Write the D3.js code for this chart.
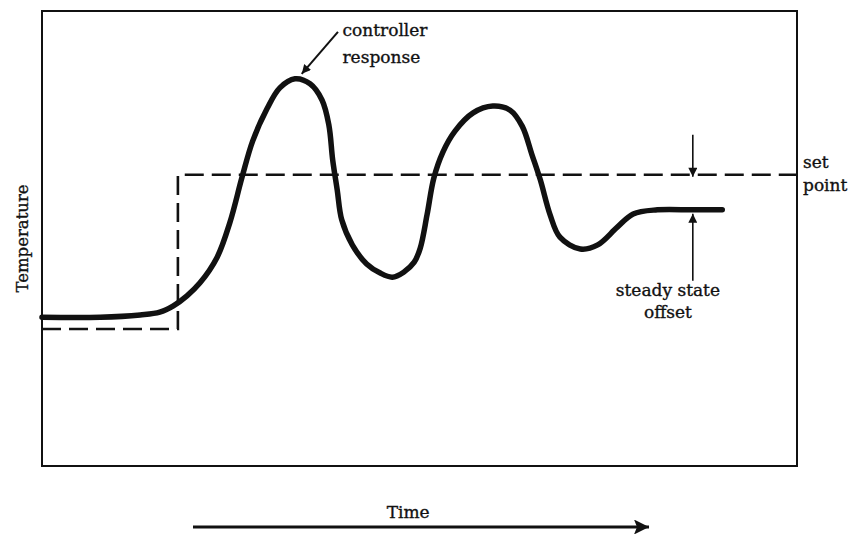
<!DOCTYPE html>
<html>
<head>
<meta charset="utf-8">
<script src="https://cdn.jsdelivr.net/npm/d3@7"></script>
<style>
  body { margin: 0; background: #fff; }
  text { font-family: "DejaVu Serif", serif; fill: #111; stroke: #111; stroke-width: 0.35px; }
</style>
</head>
<body>
<div id="chart"></div>
<script>
// controller response (time, temperature)
var respTime = [0, 7.7, 13.0, 15.6, 17.4, 19.2, 20.9, 23.2, 24.9, 26.5, 27.9, 29.8, 31.5, 33.5, 35.5, 37.1, 38.0, 38.5, 39.1, 39.7,
    41.1, 43.0, 44.8, 46.4, 47.9, 49.3, 50.1, 51.0, 51.9, 53.1, 54.7, 57.1, 59.7, 62.0, 63.6, 64.9, 66.0, 67.3, 68.6, 71.3,
    73.6, 76.2, 78.3, 81.5, 86.2, 90.1];
var respTemp = [32.7, 32.7, 33.2, 33.8, 35.2, 37.4, 40.2, 45.9, 53.6, 63.5, 71.4, 78.5, 83.1, 85.1, 84.0, 80.4, 74.9, 67.3, 60.7, 54.1,
    48.6, 44.4, 42.4, 41.5, 42.6, 44.8, 47.9, 55.2, 63.3, 69.0, 73.6, 77.6, 79.1, 78.2, 74.7, 68.4, 62.9, 55.2, 50.3, 47.7,
    48.6, 52.5, 55.4, 56.3, 56.3, 56.3];

// set point step
var setTime = [0, 18.0, 18.0, 100];
var setTemp = [30.1, 30.1, 64.0, 64.0];

var steadyTemp = 56.3;
var offsetAt = 86.2;

var width = 857, height = 534;
var margin = { top: 11, right: 60, bottom: 68, left: 42 };

var x = d3.scaleLinear().domain([0, 100]).range([margin.left, width - margin.right]);
var y = d3.scaleLinear().domain([0, 100]).range([height - margin.bottom, margin.top]);

var svg = d3.select("#chart").append("svg")
    .attr("width", width)
    .attr("height", height);

var defs = svg.append("defs");
defs.append("marker")
    .attr("id", "head")
    .attr("viewBox", "0 0 10 10")
    .attr("refX", 10).attr("refY", 5)
    .attr("markerWidth", 12).attr("markerHeight", 9)
    .attr("markerUnits", "userSpaceOnUse")
    .attr("orient", "auto")
    .append("path").attr("d", "M0,0L10,5L0,10Z").attr("fill", "#111");
defs.append("marker")
    .attr("id", "bighead")
    .attr("viewBox", "0 0 10 10")
    .attr("refX", 10).attr("refY", 5)
    .attr("markerWidth", 26).attr("markerHeight", 15)
    .attr("markerUnits", "userSpaceOnUse")
    .attr("orient", "auto")
    .append("path").attr("d", "M0,0L10,5L0,10L2,5Z").attr("fill", "#111");

// frame
svg.append("rect")
    .attr("x", x(0)).attr("y", y(100))
    .attr("width", x(100) - x(0)).attr("height", y(0) - y(100))
    .attr("fill", "none").attr("stroke", "#111").attr("stroke-width", 2);

// set point (dashed)
var setPts = setTime.map(function (t, i) { return [t, setTemp[i]]; });
svg.append("path")
    .datum(setPts)
    .attr("d", d3.line().x(function (d) { return x(d[0]); }).y(function (d) { return y(d[1]); }))
    .attr("fill", "none").attr("stroke", "#111").attr("stroke-width", 2.6)
    .attr("stroke-dasharray", "19,8");

// response curve
var respPts = respTime.map(function (t, i) { return [t, respTemp[i]]; });
svg.append("path")
    .datum(respPts)
    .attr("d", d3.line().curve(d3.curveCatmullRom.alpha(0.5))
        .x(function (d) { return x(d[0]); }).y(function (d) { return y(d[1]); }))
    .attr("fill", "none").attr("stroke", "#111").attr("stroke-width", 5.5)
    .attr("stroke-linecap", "round").attr("stroke-linejoin", "round");

// annotations
function arrow(x1, y1, x2, y2, w, m) {
    svg.append("line")
        .attr("x1", x1).attr("y1", y1).attr("x2", x2).attr("y2", y2)
        .attr("stroke", "#111").attr("stroke-width", w)
        .attr("marker-end", "url(#" + m + ")");
}

arrow(x(39.2), y(95.4), x(34.4), y(86.2), 2, "head");
svg.append("text").attr("x", x(39.8)).attr("y", y(94.5)).attr("font-size", 17).text("controller");
svg.append("text").attr("x", x(39.8)).attr("y", y(88.6)).attr("font-size", 17).text("response");

// offset arrows
arrow(x(offsetAt), y(72.8), x(offsetAt), y(setTemp[3]) + 2, 1.6, "head");
arrow(x(offsetAt), y(40.7), x(offsetAt), y(steadyTemp) + 4, 1.6, "head");
svg.append("text").attr("x", x(82.9)).attr("y", y(37.3)).attr("text-anchor", "middle")
    .attr("font-size", 17).text("steady state");
svg.append("text").attr("x", x(82.9)).attr("y", y(32.5)).attr("text-anchor", "middle")
    .attr("font-size", 17).text("offset");

svg.append("text").attr("x", x(100) + 6).attr("y", y(65.5)).attr("font-size", 17).text("set");
svg.append("text").attr("x", x(100) + 6).attr("y", y(60.4)).attr("font-size", 17).text("point");

// axis labels
svg.append("text")
    .attr("transform", "translate(28," + ((y(0) + y(100)) / 2) + ") rotate(-90)")
    .attr("text-anchor", "middle").attr("font-size", 16.5)
    .text("Temperature");

svg.append("text")
    .attr("x", x(48.5)).attr("y", 518)
    .attr("text-anchor", "middle").attr("font-size", 17)
    .text("Time");
arrow(x(20), 527, x(80.4), 527, 3.2, "bighead");
</script>
</body>
</html>
